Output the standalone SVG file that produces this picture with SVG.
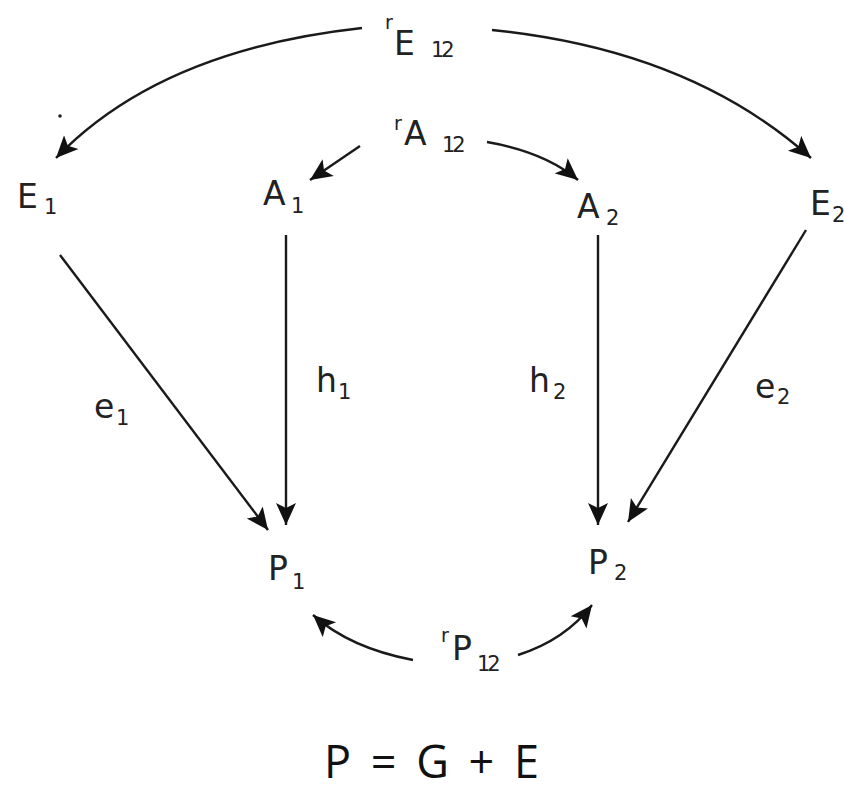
<svg xmlns="http://www.w3.org/2000/svg" width="844" height="793" viewBox="0 0 844 793">
<style>
.t{font-family:"DejaVu Sans","Liberation Sans",sans-serif;fill:#222}
.m{font-size:33px}
.s{font-size:21px}
.r{font-size:19px}
.c{fill:none;stroke:#1a1a1a;stroke-width:2.4}
.f{font-family:"Open Sans","Liberation Sans",sans-serif;font-size:45px;fill:#111}
</style>
<defs>
<marker id="ah" markerUnits="userSpaceOnUse" markerWidth="24" markerHeight="22" refX="22" refY="11" orient="auto">
<path d="M0,1 L22,11 L0,21 L5,11 Z" fill="#111"/>
</marker>
</defs>
<rect width="844" height="793" fill="#fff"/>
<g id="connectors">
<path class="c" d="M362,28 Q160,50 56,158" marker-end="url(#ah)"/>
<path class="c" d="M492,30 Q690,50 811,158" marker-end="url(#ah)"/>
<path class="c" d="M360,146 L310,180" marker-end="url(#ah)"/>
<path class="c" d="M487,142 Q545,152 578,180" marker-end="url(#ah)"/>
<path class="c" d="M286,235 L286,525" marker-end="url(#ah)"/>
<path class="c" d="M598,235 L598,525" marker-end="url(#ah)"/>
<path class="c" d="M60,255 L268,530" marker-end="url(#ah)"/>
<path class="c" d="M806,230 L628,522" marker-end="url(#ah)"/>
<path class="c" d="M413,660 Q350,648 313,615" marker-end="url(#ah)"/>
<path class="c" d="M518,655 Q565,640 592,605" marker-end="url(#ah)"/>
<circle cx="60" cy="116" r="1.8" fill="#222"/>
</g>
<g id="rE12"><text class="t r" x="385" y="29">r</text><text class="t m" x="394" y="55">E</text><text class="t s" x="431" y="57" letter-spacing="-3">12</text></g>
<g id="rA12"><text class="t r" x="394" y="130">r</text><text class="t m" x="404" y="145">A</text><text class="t s" x="442" y="152" letter-spacing="-3">12</text></g>
<g id="rP12"><text class="t r" x="441" y="642">r</text><text class="t m" x="452" y="660">P</text><text class="t s" x="477" y="671" letter-spacing="-3">12</text></g>
<g id="E1"><text class="t m" x="17" y="208">E</text><text class="t s" x="44" y="214">1</text></g>
<g id="A1"><text class="t m" x="263" y="205">A</text><text class="t s" x="291" y="213">1</text></g>
<g id="A2"><text class="t m" x="577" y="218">A</text><text class="t s" x="606" y="225">2</text></g>
<g id="E2"><text class="t m" x="810" y="215">E</text><text class="t s" x="832" y="222">2</text></g>
<g id="P1"><text class="t m" x="268" y="580">P</text><text class="t s" x="292" y="589">1</text></g>
<g id="P2"><text class="t m" x="588" y="574">P</text><text class="t s" x="614" y="580">2</text></g>
<g id="h1"><text class="t m" x="316" y="392">h</text><text class="t s" x="338" y="399">1</text></g>
<g id="h2"><text class="t m" x="529" y="392">h</text><text class="t s" x="553" y="399">2</text></g>
<g id="e1"><text class="t m" x="94" y="418">e</text><text class="t s" x="116" y="425">1</text></g>
<g id="e2"><text class="t m" x="755" y="398">e</text><text class="t s" x="777" y="404">2</text></g>
<text class="f" x="324" y="778" word-spacing="8">P = G + E</text>
</svg>
